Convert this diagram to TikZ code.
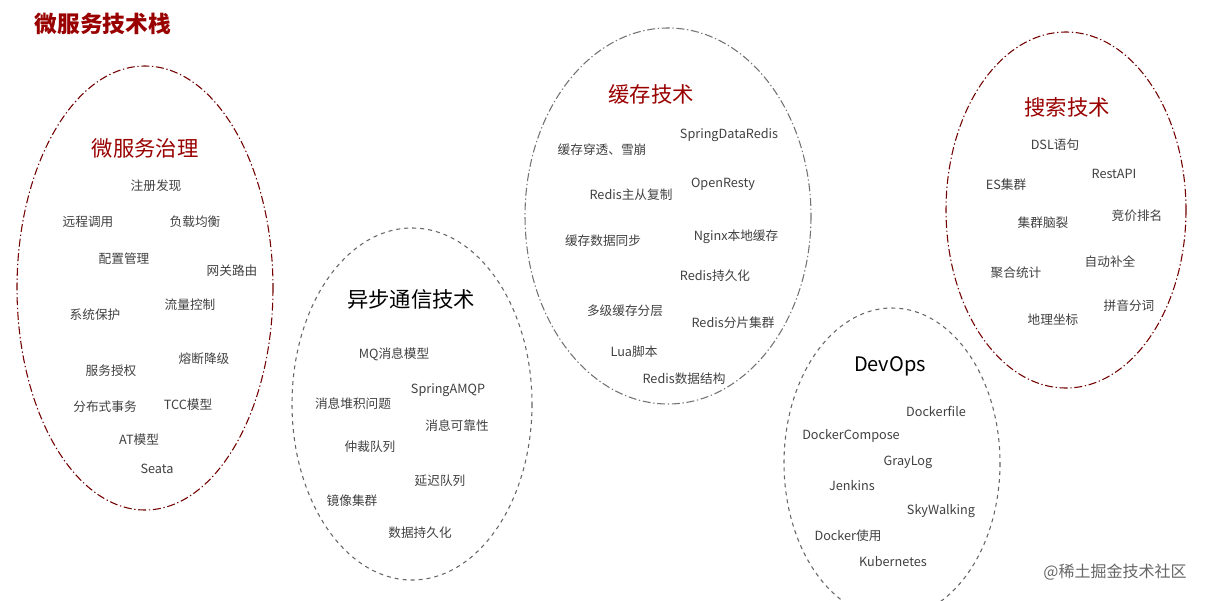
\documentclass[tikz,border=0pt]{standalone}
\usepackage{fontspec}
\setmainfont{Noto Sans CJK SC}
\begin{document}
\begin{tikzpicture}[x=0.75pt,y=-0.75pt,
  lab/.style={font=\fontsize{9.5}{11}\selectfont, text=black!75},
  ttl/.style={font=\fontsize{16}{18}\selectfont},
  redring/.style={draw=red!45!black, dash pattern=on 6pt off 2pt on 1pt off 2pt, line width=0.8pt},
  grayring/.style={draw=black!55, dash pattern=on 6pt off 2pt on 1pt off 2pt, line width=0.8pt},
  grayd/.style={draw=black!60, dashed, line width=0.8pt}]
\useasboundingbox (0,0) rectangle (1206,600);
\colorlet{tred}{red!60!black}
\node[anchor=west, font=\fontsize{17}{19}\selectfont\bfseries, text=tred] (main) at (30,24) {微服务技术栈};
% ellipses
\draw[redring] (145,288) ellipse (128 and 222);
\draw[grayd] (412,404) ellipse (120 and 176);
\draw[grayring] (668,216) ellipse (143 and 188);
\draw[grayd] (892,463) ellipse (108 and 155);
\draw[redring] (1066,210) ellipse (120 and 178);
% group 1
\node[ttl, text=tred] (t1) at (145,148) {微服务治理};
\node[lab] (a1) at (156,186) {注册发现};
\node[lab] (a2) at (88,222) {远程调用};
\node[lab] (a3) at (195,222) {负载均衡};
\node[lab] (a4) at (124,259) {配置管理};
\node[lab] (a5) at (232,271) {网关路由};
\node[lab] (a6) at (190,305) {流量控制};
\node[lab] (a7) at (95,315) {系统保护};
\node[lab] (a8) at (204,359) {熔断降级};
\node[lab] (a9) at (111,371) {服务授权};
\node[lab] (a10) at (188,405) {TCC模型};
\node[lab] (a11) at (105,407) {分布式事务};
\node[lab] (a12) at (139,440) {AT模型};
\node[lab] (a13) at (157,469) {Seata};
% group 2
\node[ttl] (t2) at (411,299) {异步通信技术};
\node[lab] (b1) at (394,354) {MQ消息模型};
\node[lab] (b2) at (448,390) {SpringAMQP};
\node[lab] (b3) at (353,404) {消息堆积问题};
\node[lab] (b4) at (457,426) {消息可靠性};
\node[lab] (b5) at (370,447) {仲裁队列};
\node[lab] (b6) at (440,481) {延迟队列};
\node[lab] (b7) at (352,501) {镜像集群};
\node[lab] (b8) at (420,533) {数据持久化};
% group 3
\node[ttl, text=tred] (t3) at (651,94) {缓存技术};
\node[lab] (c1) at (729,135) {SpringDataRedis};
\node[lab] (c2) at (602,150) {缓存穿透、雪崩};
\node[lab] (c3) at (723,184) {OpenResty};
\node[lab] (c4) at (631,195) {Redis主从复制};
\node[lab] (c5) at (603,241) {缓存数据同步};
\node[lab] (c6) at (736,237) {Nginx本地缓存};
\node[lab] (c7) at (715,276) {Redis持久化};
\node[lab] (c8) at (625,311) {多级缓存分层};
\node[lab] (c9) at (733,323) {Redis分片集群};
\node[lab] (c10) at (634,352) {Lua脚本};
\node[lab] (c11) at (684,379) {Redis数据结构};
% group 4
\node[ttl, font=\fontsize{15}{18}\selectfont] (t4) at (890,366) {DevOps};
\node[lab] (d1) at (936,411) {Dockerfile};
\node[lab] (d2) at (851,436) {DockerCompose};
\node[lab] (d3) at (908,462) {GrayLog};
\node[lab] (d4) at (852,486) {Jenkins};
\node[lab] (d5) at (941,511) {SkyWalking};
\node[lab] (d6) at (848,536) {Docker使用};
\node[lab] (d7) at (893,562) {Kubernetes};
% group 5
\node[ttl, text=tred] (t5) at (1067,107) {搜索技术};
\node[lab] (e1) at (1055,145) {DSL语句};
\node[lab] (e2) at (1114,174) {RestAPI};
\node[lab] (e3) at (1006,185) {ES集群};
\node[lab] (e4) at (1043,223) {集群脑裂};
\node[lab] (e5) at (1137,216) {竞价排名};
\node[lab] (e6) at (1110,262) {自动补全};
\node[lab] (e7) at (1016,273) {聚合统计};
\node[lab] (e8) at (1129,306) {拼音分词};
\node[lab] (e9) at (1053,320) {地理坐标};
% watermark
\node[font=\fontsize{12}{14}\selectfont, text=black!60] (w2) at (1115,572) {@稀土掘金技术社区};
\end{tikzpicture}
\end{document}
